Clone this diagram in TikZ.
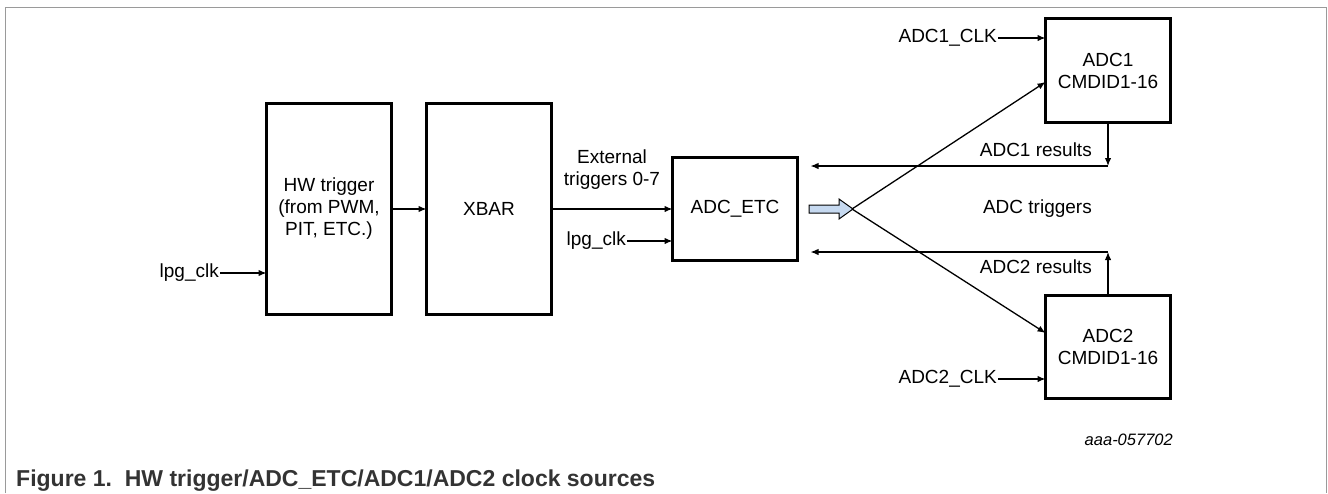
\documentclass[tikz,border=0pt]{standalone}
\usepackage{fontspec}
\setmainfont{Liberation Sans}
\usetikzlibrary{arrows.meta,calc}
\definecolor{framegray}{HTML}{9A9A9A}
\definecolor{captiongray}{HTML}{333333}
\definecolor{trigblue}{HTML}{C6D9F0}
\begin{document}
\begin{tikzpicture}[x=1pt,y=-1pt,
  blk/.style={draw,line width=3pt,inner sep=0pt,outer sep=0pt,align=center,
    font=\fontsize{19}{22}\selectfont},
  lbl/.style={inner sep=1pt,font=\fontsize{19}{22}\selectfont,align=center},
  conn/.style={line width=1.3pt,-{Latex[length=8pt,width=6.5pt]}},
  plain/.style={line width=1.3pt}]
\useasboundingbox (0,0) rectangle (1328,493);
% frame
\draw[framegray,line width=1pt] (5,493) -- (5,7) -- (1326,7) -- (1326,493);
% blocks
\node[blk,minimum width=125pt,minimum height=211pt] (hw) at (329,209) {HW trigger\\(from PWM,\\PIT, ETC.)};
\node[blk,minimum width=125pt,minimum height=211pt] (xbar) at (489,209) {XBAR};
\node[blk,minimum width=125pt,minimum height=103pt] (etc) at (735,209) {ADC\_ETC};
\node[blk,minimum width=125pt,minimum height=104pt] (adc1) at (1108,70.5) {ADC1\\CMDID1-16};
\node[blk,minimum width=125pt,minimum height=103pt] (adc2) at (1108,347) {ADC2\\CMDID1-16};
% clock labels
\node[lbl,anchor=east] (lpga) at (220,273) {lpg\_clk};
\node[lbl,anchor=east] (lpgb) at (627,241) {lpg\_clk};
\node[lbl,anchor=east] (clka) at (998,38) {ADC1\_CLK};
\node[lbl,anchor=east] (clkb) at (998,379) {ADC2\_CLK};
\draw[conn] (lpga.east) -- (lpga.east -| hw.west);
\draw[conn] (lpgb.east) -- (lpgb.east -| etc.west);
\draw[conn] (clka.east) -- (clka.east -| adc1.west);
\draw[conn] (clkb.east) -- (clkb.east -| adc2.west);
% main chain
\draw[conn] (hw.east) -- (xbar.west);
\draw[conn] (xbar.east) -- (etc.west);
\node[lbl] (ext) at (612,170) {External\\triggers 0-7};
% blue trigger arrow
\draw[fill=trigblue,line width=1pt] (809,205) -- (839,205) -- (839,199) -- (853,209)
  -- (839,219) -- (839,213) -- (809,213) -- cycle;
\coordinate (tip) at (852,209);
\draw[conn] (tip) -- (adc1.west |- 0,82);
\draw[conn] (tip) -- (adc2.west |- 0,333);
\node[lbl,anchor=east] (trig) at (1093,209) {ADC triggers};
% results
\coordinate (r1) at (adc1.south |- 0,166);
\coordinate (r2) at (adc2.north |- 0,252);
\coordinate (e1) at ($(etc.east |- r1)+(13,0)$);
\coordinate (e2) at ($(etc.east |- r2)+(13,0)$);
\draw[conn] (adc1.south) -- (r1);
\draw[conn] (r1) -- (e1);
\draw[conn] (adc2.north) -- (r2);
\draw[conn] (r2) -- (e2);
\node[lbl,anchor=east] (res1) at (1093,150) {ADC1 results};
\node[lbl,anchor=east] (res2) at (1093,267) {ADC2 results};
% figure id and caption
\node[inner sep=1pt,anchor=east,font=\fontsize{16.5}{18}\selectfont\itshape] (fid) at (1174,440) {aaa-057702};
\node[inner sep=0pt,anchor=west,text=captiongray,font=\fontsize{23}{26}\selectfont\bfseries] (cap) at (16,481) {Figure 1.~~HW trigger/ADC\_ETC/ADC1/ADC2 clock sources};
\end{tikzpicture}
\end{document}
